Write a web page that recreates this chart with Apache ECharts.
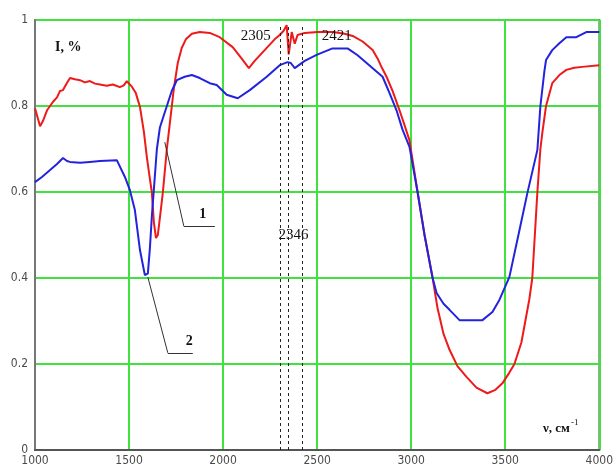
<!DOCTYPE html>
<html>
<head>
<meta charset="utf-8">
<script src="https://cdn.jsdelivr.net/npm/echarts@6/dist/echarts.min.js"></script>
<style>
  html, body { margin: 0; padding: 0; background: #fff; }
  #chart { width: 616px; height: 468px; }
</style>
</head>
<body>
<div id="chart"></div>
<script>
// Wavenumber (cm^-1) and transmission for spectrum 1 (red)
const nu1 = [1000,1016,1027,1042,1064,1080,1096,1117,1133,1149,1165,1186,1212,1239,1265,1292,1319,1345,1382,1414,1451,1472,1488,1504,1515,1536,1558,1579,1595,1611,1621,1632,1643,1653,1664,1680,1701,1717,1738,1759,1780,1802,1834,1876,1929,1982,2051,2099,2137,2168,2221,2274,2301,2322,2338,2349,2365,2381,2396,2434,2503,2582,2646,2689,2742,2795,2822,2843,2869,2901,2938,2965,2991,3034,3071,3114,3140,3172,3204,3246,3294,3347,3405,3448,3485,3522,3549,3586,3628,3644,3671,3687,3697,3717,3750,3788,3825,3867,3910,4000];
const t1 = [0.795,0.77,0.753,0.765,0.79,0.80,0.81,0.82,0.835,0.837,0.85,0.865,0.862,0.86,0.855,0.858,0.852,0.85,0.847,0.85,0.844,0.848,0.858,0.85,0.845,0.83,0.798,0.74,0.68,0.63,0.60,0.53,0.493,0.50,0.54,0.60,0.70,0.76,0.84,0.90,0.935,0.955,0.968,0.972,0.97,0.96,0.937,0.91,0.888,0.905,0.93,0.955,0.965,0.975,0.988,0.92,0.972,0.945,0.965,0.97,0.972,0.972,0.968,0.963,0.95,0.93,0.91,0.89,0.868,0.835,0.79,0.755,0.72,0.60,0.50,0.40,0.33,0.27,0.233,0.195,0.17,0.145,0.132,0.14,0.155,0.18,0.20,0.25,0.35,0.40,0.60,0.70,0.737,0.80,0.853,0.872,0.884,0.889,0.891,0.895];

// Wavenumber (cm^-1) and transmission for spectrum 2 (blue)
const nu2 = [1000,1037,1080,1117,1149,1170,1186,1239,1292,1345,1435,1478,1504,1531,1558,1584,1600,1611,1621,1648,1664,1701,1727,1754,1796,1834,1876,1929,1966,2019,2078,2142,2232,2301,2343,2360,2381,2434,2497,2582,2662,2715,2763,2848,2885,2922,2954,2991,3034,3071,3114,3135,3172,3204,3257,3379,3432,3469,3522,3575,3618,3671,3687,3708,3717,3750,3788,3825,3878,3931,4000];
const t2 = [0.623,0.635,0.651,0.665,0.679,0.672,0.67,0.668,0.67,0.672,0.674,0.635,0.605,0.558,0.465,0.407,0.41,0.47,0.542,0.70,0.75,0.80,0.835,0.86,0.868,0.872,0.865,0.853,0.849,0.826,0.818,0.837,0.868,0.895,0.902,0.9,0.888,0.905,0.919,0.934,0.934,0.918,0.90,0.868,0.83,0.79,0.745,0.705,0.60,0.50,0.40,0.365,0.34,0.326,0.302,0.302,0.321,0.349,0.402,0.51,0.598,0.698,0.80,0.88,0.907,0.93,0.946,0.96,0.96,0.972,0.972];

// Marked band positions (cm^-1)
const bands = [2305, 2346, 2421];

// Axis ticks
const xTicks = { min: 1000, max: 4000, step: 500 };
const yTicks = { min: 0, max: 1, step: 0.2 };

const zip = (a, b) => a.map((v, i) => [v, b[i]]);

const chart = echarts.init(document.getElementById('chart'), null, { renderer: 'canvas' });

const green = '#3fe23f';
const tickFont = { color: '#4a4a4a', fontSize: 12, fontFamily: '"DejaVu Sans Condensed", "Liberation Sans Narrow", Arial, sans-serif' };

const dash = { type: [3, 3], color: '#222', width: 1 };
const leader = { type: 'solid', color: '#333', width: 1 };

chart.setOption({
  animation: false,
  backgroundColor: '#fff',
  grid: { left: 35, right: 16, top: 20, bottom: 18, show: true, borderColor: '#858585', borderWidth: 2, backgroundColor: '#fff' },
  xAxis: {
    type: 'value', min: xTicks.min, max: xTicks.max, interval: xTicks.step,
    axisLine: { show: true, lineStyle: { color: '#555', width: 2 } },
    axisTick: { show: false },
    axisLabel: Object.assign({ margin: 5, formatter: v => String(v) }, tickFont),
    splitLine: { show: true, lineStyle: { color: green, width: 2 } }
  },
  yAxis: {
    type: 'value', min: yTicks.min, max: yTicks.max, interval: yTicks.step,
    axisLine: { show: true, lineStyle: { color: '#777', width: 2 } },
    axisTick: { show: false },
    axisLabel: Object.assign({ margin: 7, formatter: v => String(+v.toFixed(1)) }, tickFont),
    splitLine: { show: true, lineStyle: { color: green, width: 2 } }
  },
  series: [
    {
      type: 'line', name: '1', data: zip(nu1, t1), showSymbol: false,
      lineStyle: { color: '#ee1a1a', width: 2 }, z: 3,
      markLine: {
        silent: true, symbol: ['none', 'none'], label: { show: false },
        data: bands.map(b => [
          { coord: [b, 0], lineStyle: dash },
          { coord: [b, 0.985] }
        ]).concat([
          [{ coord: [1690, 0.716], lineStyle: leader }, { coord: [1791, 0.521] }],
          [{ coord: [1791, 0.521], lineStyle: leader }, { coord: [1956, 0.521] }]
        ])
      }
    },
    {
      type: 'line', name: '2', data: zip(nu2, t2), showSymbol: false,
      lineStyle: { color: '#2323dd', width: 2 }, z: 4,
      markLine: {
        silent: true, symbol: ['none', 'none'], label: { show: false },
        data: [
          [{ coord: [1600, 0.402], lineStyle: leader }, { coord: [1706, 0.226] }],
          [{ coord: [1706, 0.226], lineStyle: leader }, { coord: [1839, 0.226] }]
        ]
      }
    }
  ]
});

// Text annotations anchored in data space
const serif = '"Liberation Serif", "DejaVu Serif", serif';
const px = (x, y) => chart.convertToPixel({ gridIndex: 0 }, [x, y]);
const textAt = (str, x, y, opts) => {
  const p = px(x, y);
  return {
    type: 'text', x: p[0], y: p[1], z: 10,
    style: Object.assign({ text: str, fill: '#111', font: '15px ' + serif, textAlign: 'center', textVerticalAlign: 'middle' }, opts || {})
  };
};

chart.setOption({
  graphic: [
    textAt('2305', 2174, 0.963),
    textAt('2421', 2604, 0.963),
    textAt('2346', 2375, 0.50),
    textAt('1', 1892, 0.549, { font: 'bold 14px ' + serif }),
    textAt('2', 1820, 0.252, { font: 'bold 14px ' + serif }),
    {
      type: 'text', left: 55, top: 40, z: 10,
      style: { text: 'I, %', fill: '#111', font: 'bold 14px ' + serif }
    },
    {
      type: 'text', left: 543, top: 418, z: 10,
      style: {
        text: '{m|ν, см}{s|-1}', fill: '#111',
        rich: {
          m: { font: 'bold 13px ' + serif, fill: '#111', verticalAlign: 'bottom' },
          s: { font: '9px ' + serif, fill: '#111', verticalAlign: 'top', padding: [0, 0, 8, 1] }
        }
      }
    }
  ]
});
</script>
</body>
</html>
